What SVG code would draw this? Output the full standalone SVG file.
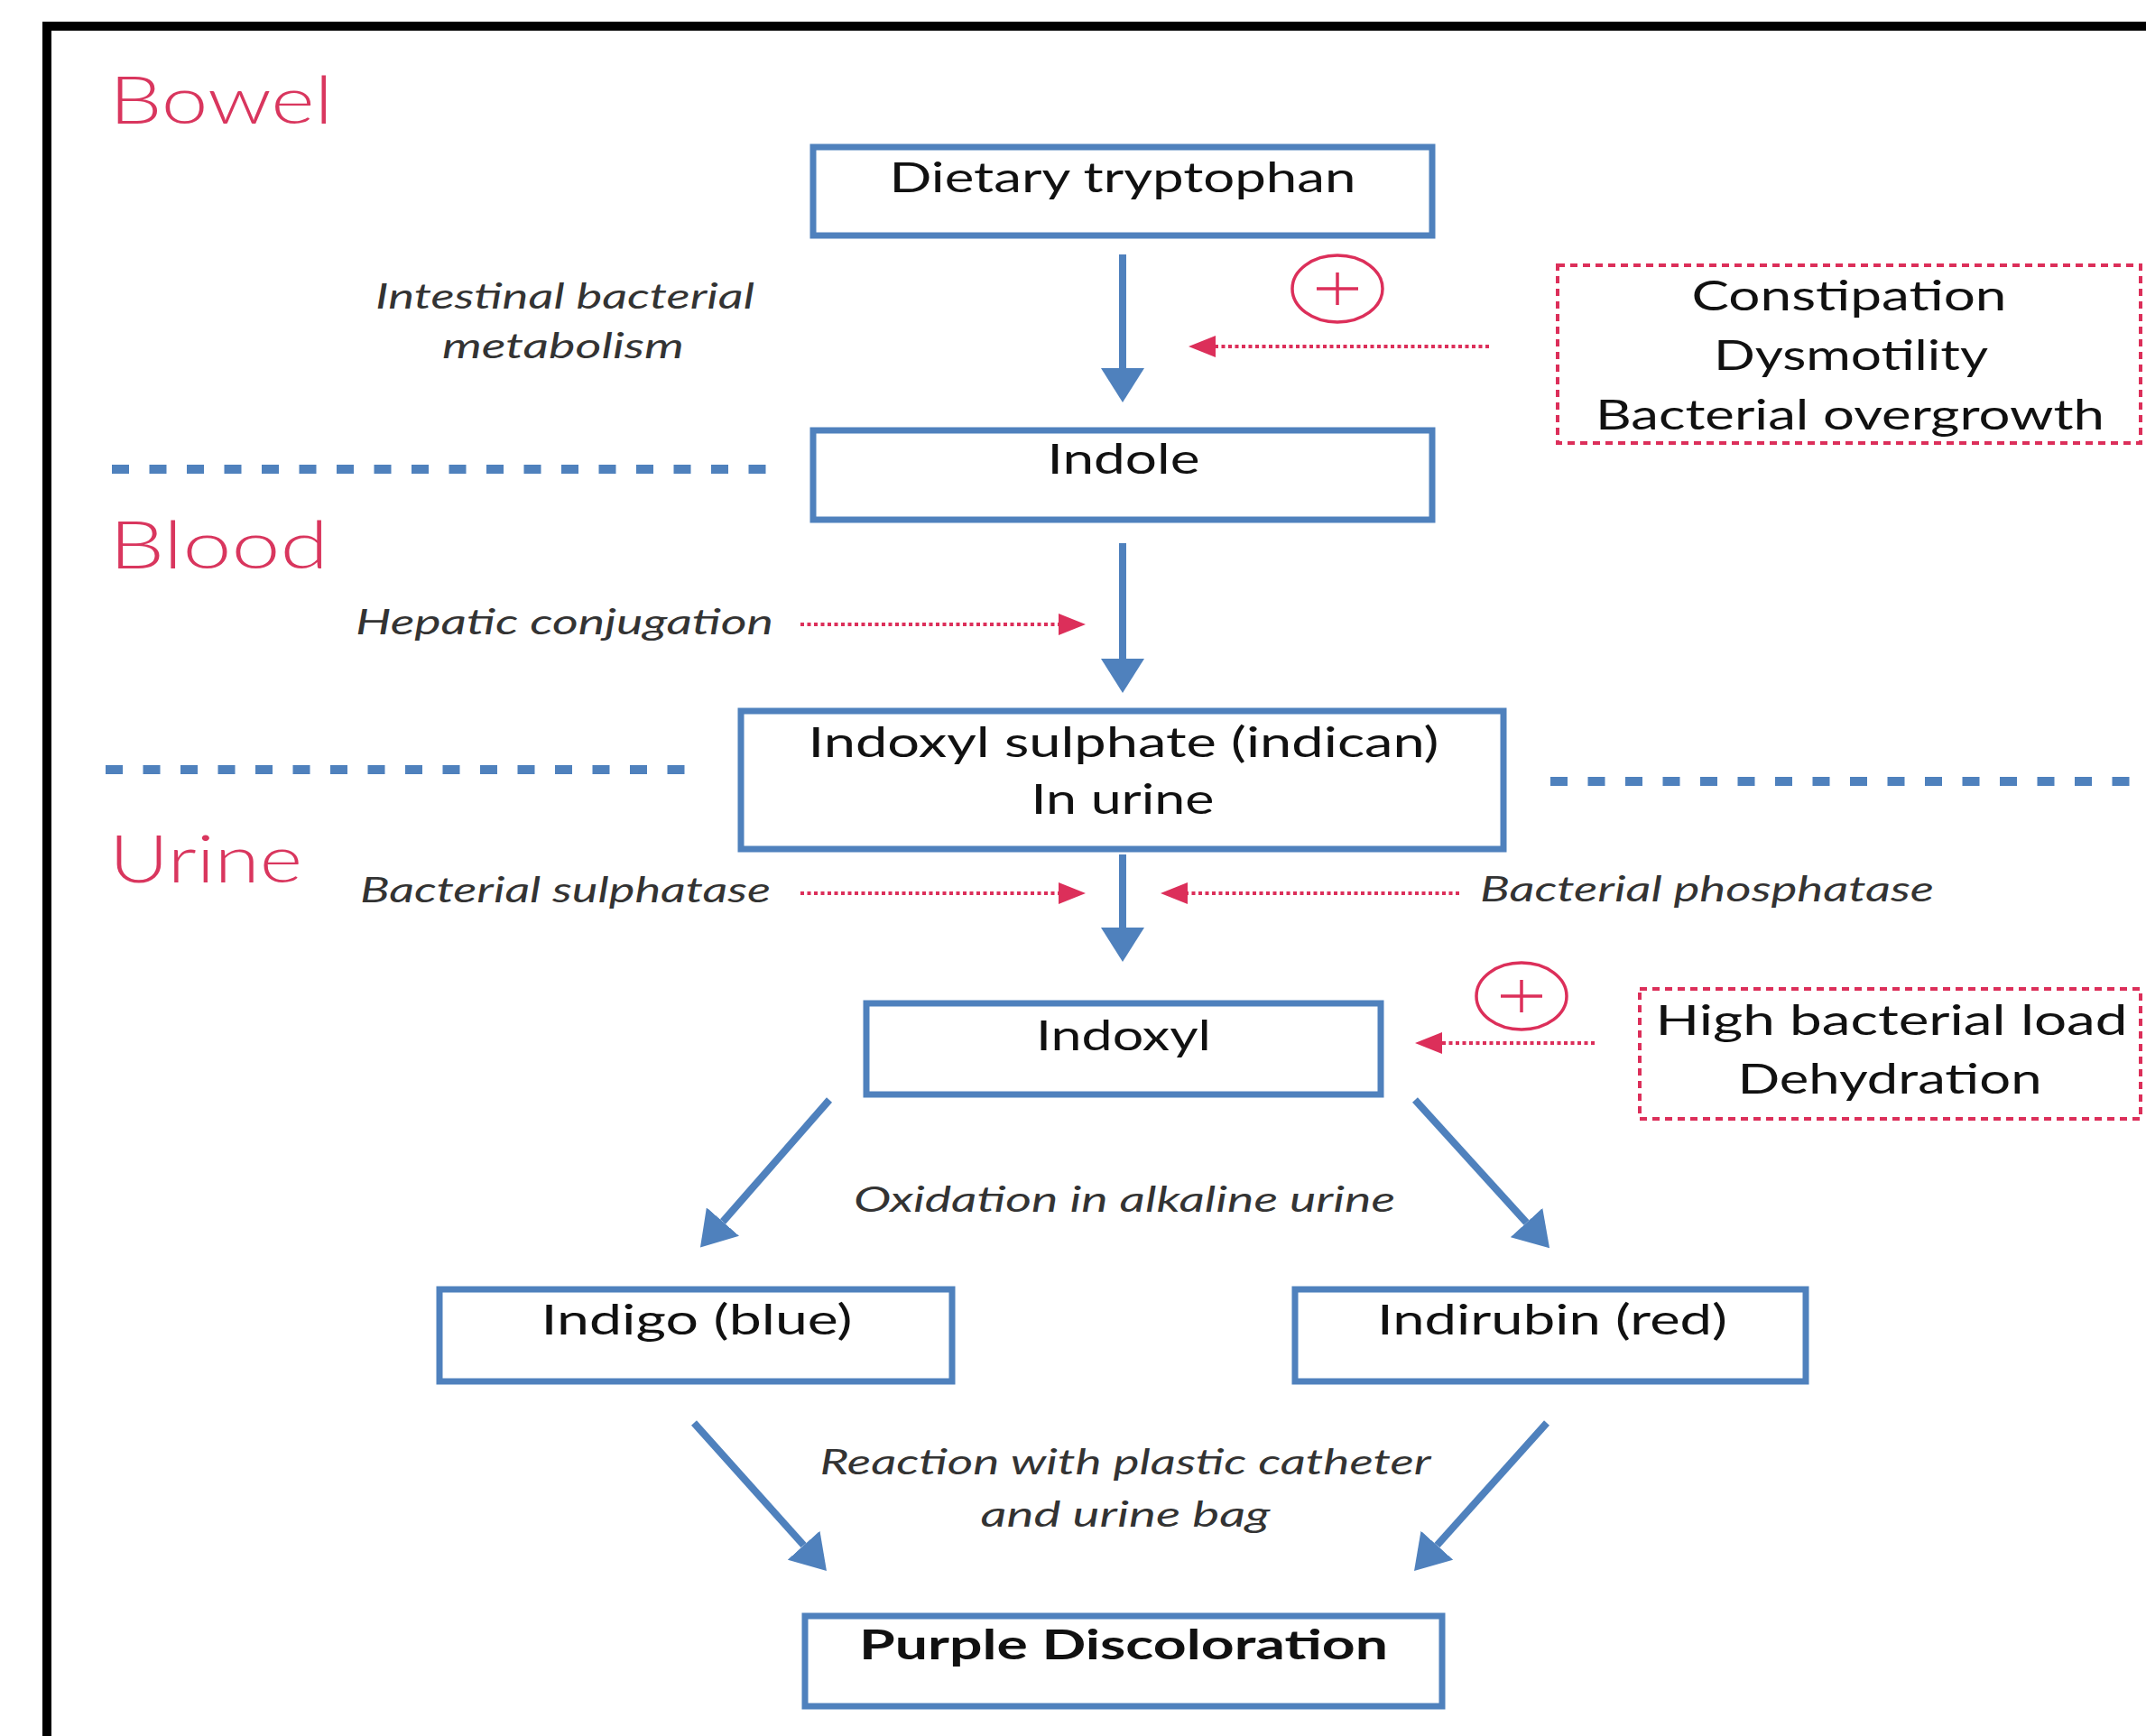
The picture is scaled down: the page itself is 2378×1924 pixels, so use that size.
<svg xmlns="http://www.w3.org/2000/svg" width="2378" height="1924" viewBox="0 0 2378 1924">
<style>
.node{fill:#fff;stroke:#4F81BD;stroke-width:7}
.nt{font-family:Lato,"Liberation Sans",sans-serif;font-size:46px;fill:#111;text-anchor:middle}
.lbl{font-family:Lato,"Liberation Sans",sans-serif;font-size:38px;font-style:italic;fill:#333}
.zone{font-family:Lato,"Liberation Sans",sans-serif;font-size:72px;font-weight:300;fill:#D9365E}
.sep{stroke:#4F81BD;stroke-width:10;stroke-dasharray:19 22.5;fill:none}
.flow{stroke:#4F81BD;stroke-width:8;fill:none}
.inh{stroke:#DC2F5A;stroke-width:4;stroke-dasharray:4 3.5;fill:none}
.cause{fill:#fff;stroke:#DC2F5A;stroke-width:4;stroke-dasharray:8 6}
.plus{fill:none;stroke:#DC2F5A;stroke-width:3.5}
</style>
<defs>
<marker id="ba" viewBox="0 0 38 48" refX="0" refY="24" markerWidth="38" markerHeight="48" markerUnits="userSpaceOnUse" orient="auto"><path d="M0,0 L38,24 L0,48 Z" fill="#4F81BD"/></marker>
<marker id="pa" viewBox="0 0 30 24" refX="0" refY="12" markerWidth="30" markerHeight="24" markerUnits="userSpaceOnUse" orient="auto"><path d="M0,0 L30,12 L0,24 Z" fill="#DC2F5A"/></marker>
</defs>
<rect width="2378" height="1924" fill="#fff"/>
<rect x="52" y="29" width="2400" height="2000" fill="none" stroke="#000" stroke-width="10"/>

<g id="zones">
<text class="zone" x="121" y="137" textLength="248" lengthAdjust="spacingAndGlyphs">Bowel</text>
<text class="zone" x="121" y="630" textLength="243" lengthAdjust="spacingAndGlyphs">Blood</text>
<text class="zone" x="121" y="978" textLength="214" lengthAdjust="spacingAndGlyphs">Urine</text>
<line class="sep" x1="124" y1="520" x2="850" y2="520"/>
<line class="sep" x1="117" y1="853" x2="764" y2="853"/>
<line class="sep" x1="1718" y1="866" x2="2364" y2="866"/>
</g>

<g id="connectors">
<line class="flow" x1="1244" y1="282" x2="1244" y2="408" marker-end="url(#ba)"/>
<line class="flow" x1="1244" y1="602" x2="1244" y2="730" marker-end="url(#ba)"/>
<line class="flow" x1="1244" y1="947" x2="1244" y2="1028" marker-end="url(#ba)"/>
<line class="flow" x1="919" y1="1219" x2="801" y2="1354" marker-end="url(#ba)"/>
<line class="flow" x1="1568" y1="1219" x2="1691.5" y2="1355" marker-end="url(#ba)"/>
<line class="flow" x1="769" y1="1577" x2="890.6" y2="1712.7" marker-end="url(#ba)"/>
<line class="flow" x1="1714" y1="1577" x2="1592.4" y2="1712.7" marker-end="url(#ba)"/>
<line class="inh" x1="1650" y1="384" x2="1347" y2="384" marker-end="url(#pa)"/>
<line class="inh" x1="887" y1="692" x2="1173" y2="692" marker-end="url(#pa)"/>
<line class="inh" x1="887" y1="990" x2="1173" y2="990" marker-end="url(#pa)"/>
<line class="inh" x1="1617" y1="990" x2="1316" y2="990" marker-end="url(#pa)"/>
<line class="inh" x1="1767" y1="1156" x2="1598" y2="1156" marker-end="url(#pa)"/>
</g>

<g id="labels">
<text class="lbl" x="626" y="342" text-anchor="middle" textLength="420" lengthAdjust="spacingAndGlyphs">Intestinal bacterial</text>
<text class="lbl" x="624" y="397" text-anchor="middle" textLength="268" lengthAdjust="spacingAndGlyphs">metabolism</text>
<text class="lbl" x="394" y="703" textLength="463" lengthAdjust="spacingAndGlyphs">Hepatic conjugation</text>
<text class="lbl" x="399" y="1000" textLength="455" lengthAdjust="spacingAndGlyphs">Bacterial sulphatase</text>
<text class="lbl" x="1640" y="999" textLength="503" lengthAdjust="spacingAndGlyphs">Bacterial phosphatase</text>
<text class="lbl" x="1246" y="1343" text-anchor="middle" textLength="600" lengthAdjust="spacingAndGlyphs">Oxidation in alkaline urine</text>
<text class="lbl" x="1247" y="1634" text-anchor="middle" textLength="677" lengthAdjust="spacingAndGlyphs">Reaction with plastic catheter</text>
<text class="lbl" x="1247" y="1692" text-anchor="middle" textLength="321" lengthAdjust="spacingAndGlyphs">and urine bag</text>
</g>

<g id="plus1">
<ellipse class="plus" cx="1482" cy="320" rx="50" ry="37"/>
<line class="plus" x1="1459" y1="320" x2="1505" y2="320"/>
<line class="plus" x1="1482" y1="302" x2="1482" y2="338"/>
</g>
<g id="plus2">
<ellipse class="plus" cx="1686" cy="1104" rx="50" ry="37"/>
<line class="plus" x1="1663" y1="1104" x2="1709" y2="1104"/>
<line class="plus" x1="1686" y1="1086" x2="1686" y2="1122"/>
</g>

<g id="node-tryptophan">
<rect class="node" x="901" y="163" width="686" height="98"/>
<text class="nt" x="1244" y="213" textLength="517" lengthAdjust="spacingAndGlyphs">Dietary tryptophan</text>
</g>
<g id="node-indole">
<rect class="node" x="901" y="477" width="686" height="99"/>
<text class="nt" x="1245" y="525" textLength="169" lengthAdjust="spacingAndGlyphs">Indole</text>
</g>
<g id="node-indican">
<rect class="node" x="821" y="788" width="845" height="153"/>
<text class="nt" x="1245" y="839" textLength="699" lengthAdjust="spacingAndGlyphs">Indoxyl sulphate (indican)</text>
<text class="nt" x="1244" y="902" textLength="203" lengthAdjust="spacingAndGlyphs">In urine</text>
</g>
<g id="node-indoxyl">
<rect class="node" x="960" y="1112" width="570" height="101"/>
<text class="nt" x="1245" y="1164" textLength="194" lengthAdjust="spacingAndGlyphs">Indoxyl</text>
</g>
<g id="node-indigo">
<rect class="node" x="487" y="1429" width="568" height="102"/>
<text class="nt" x="772" y="1479" textLength="345" lengthAdjust="spacingAndGlyphs">Indigo (blue)</text>
</g>
<g id="node-indirubin">
<rect class="node" x="1435" y="1429" width="566" height="102"/>
<text class="nt" x="1720" y="1479" textLength="388" lengthAdjust="spacingAndGlyphs">Indirubin (red)</text>
</g>
<g id="node-purple">
<rect class="node" x="892" y="1791" width="706" height="100"/>
<text class="nt" x="1245" y="1839" font-weight="bold" textLength="586" lengthAdjust="spacingAndGlyphs">Purple Discoloration</text>
</g>
<g id="cause-bowel">
<rect class="cause" x="1726" y="294" width="646" height="197"/>
<text class="nt" x="2049" y="344" textLength="349" lengthAdjust="spacingAndGlyphs">Constipation</text>
<text class="nt" x="2051" y="410" textLength="304" lengthAdjust="spacingAndGlyphs">Dysmotility</text>
<text class="nt" x="2050" y="476" textLength="564" lengthAdjust="spacingAndGlyphs">Bacterial overgrowth</text>
</g>
<g id="cause-urine">
<rect class="cause" x="1817" y="1096" width="555" height="144"/>
<text class="nt" x="2096" y="1147" textLength="523" lengthAdjust="spacingAndGlyphs">High bacterial load</text>
<text class="nt" x="2094" y="1212" textLength="337" lengthAdjust="spacingAndGlyphs">Dehydration</text>
</g>
</svg>
